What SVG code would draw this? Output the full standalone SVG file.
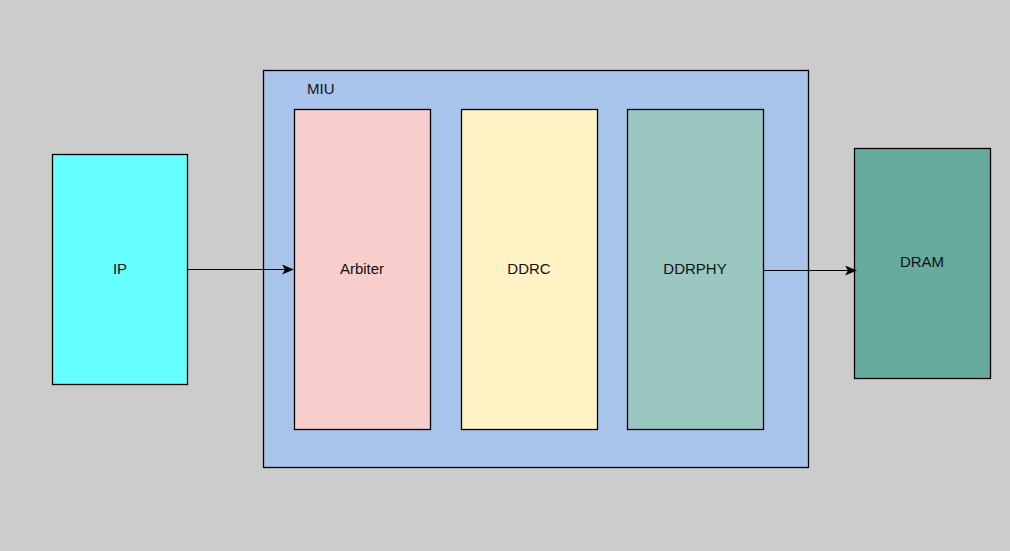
<svg xmlns="http://www.w3.org/2000/svg" width="1010" height="551" viewBox="0 0 1010 551">
<style>
.box{stroke:#000;stroke-width:1.3}
.lbl{font-family:"Liberation Sans",Arial,sans-serif;font-size:15px;fill:#111;text-anchor:middle;dominant-baseline:central}
.edge{stroke:#000;stroke-width:1.2;fill:none}
</style>
<defs>
<marker id="arr" markerWidth="12" markerHeight="10" refX="11" refY="5" orient="auto" markerUnits="userSpaceOnUse">
<path d="M0,0 L12,5 L0,10 L3,5 Z" fill="#000"/>
</marker>
</defs>
<rect width="1010" height="551" fill="#cccccc"/>
<g id="MIU">
<rect class="box" x="263.5" y="70.5" width="545" height="397" fill="#a9c4eb"/>
<text x="307" y="88" font-family="Liberation Sans,Arial,sans-serif" font-size="15" fill="#111" dominant-baseline="central">MIU</text>
</g>
<g id="IP">
<rect class="box" x="52.5" y="154.5" width="135" height="230" fill="#66ffff"/>
<text class="lbl" x="120" y="268">IP</text>
</g>
<g id="Arbiter">
<rect class="box" x="294.5" y="109.5" width="136" height="320" fill="#f8cecc"/>
<text class="lbl" x="362" y="268">Arbiter</text>
</g>
<g id="DDRC">
<rect class="box" x="461.5" y="109.5" width="136" height="320" fill="#fff2c4"/>
<text class="lbl" x="529" y="268">DDRC</text>
</g>
<g id="DDRPHY">
<rect class="box" x="627.5" y="109.5" width="136" height="320" fill="#9ac7bf"/>
<text class="lbl" x="695" y="268">DDRPHY</text>
</g>
<g id="DRAM">
<rect class="box" x="854.5" y="148.5" width="136" height="230" fill="#67ab9f"/>
<text class="lbl" x="922" y="261">DRAM</text>
</g>
<g id="connectors">
<path class="edge" d="M188,269.5 L293,269.5" marker-end="url(#arr)"/>
<path class="edge" d="M764,270.5 L856,270.5" marker-end="url(#arr)"/>
</g>
</svg>
